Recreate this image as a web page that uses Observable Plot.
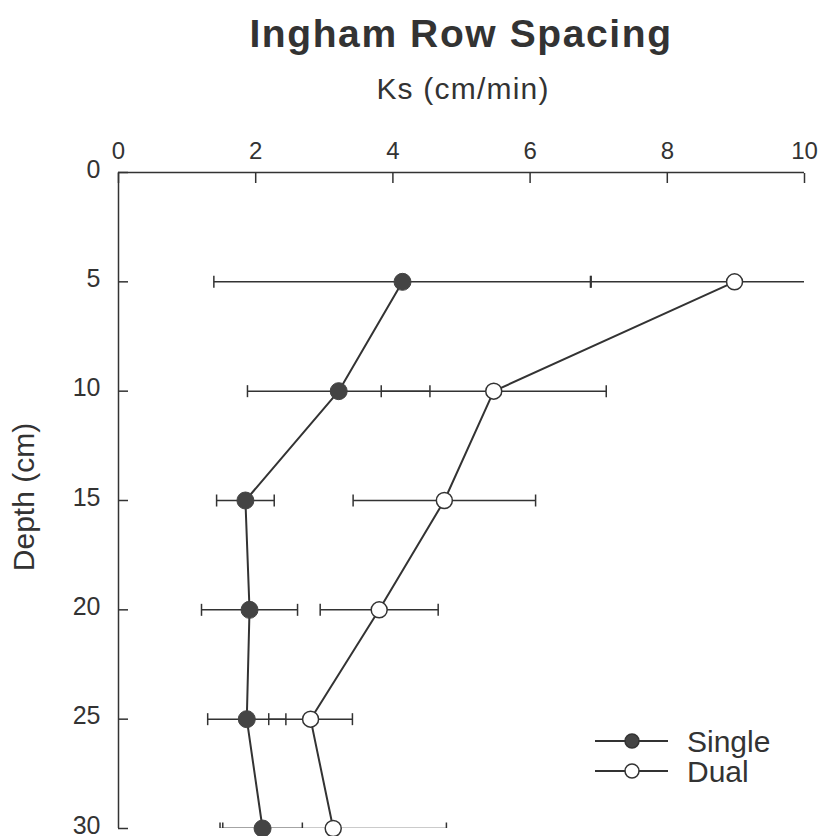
<!DOCTYPE html>
<html>
<head>
<meta charset="utf-8">
<script src="https://cdn.jsdelivr.net/npm/d3@7"></script>
<script src="https://cdn.jsdelivr.net/npm/@observablehq/plot@0.6"></script>
<style>
  html, body { margin: 0; padding: 0; background: #fff; }
  #wrap { position: relative; width: 822px; height: 836px; overflow: hidden; font-family: "Liberation Sans", Arial, sans-serif; color: #333; }
  #wrap svg.plot { position: absolute; left: 0; top: 0; }
  .title { position: absolute; left: 0; width: 922px; text-align: center; top: 12px; font-size: 39px; font-weight: bold; letter-spacing: 1.6px; white-space: nowrap; }
  .xlabel { position: absolute; left: 0; width: 926px; text-align: center; top: 72px; font-size: 30px; letter-spacing: 1.2px; white-space: nowrap; }
  .ylabel { position: absolute; left: 24px; top: 497px; font-size: 30px; white-space: nowrap; transform: translate(-50%, -50%) rotate(-90deg); }
  .legend { position: absolute; left: 590px; top: 722px; }
</style>
</head>
<body>
<div id="wrap">
  <div class="title">Ingham Row Spacing</div>
  <div class="xlabel">Ks (cm/min)</div>
  <div class="ylabel">Depth (cm)</div>
</div>
<script>
// ---- data ----
const depths    = [5, 10, 15, 20, 25, 30];
const singleKs  = [4.14, 3.21, 1.85, 1.91, 1.87, 2.10];
const singleErr = [2.75, 1.33, 0.42, 0.70, 0.57, 0.58];
const dualKs    = [8.98, 5.47, 4.75, 3.80, 2.80, 3.13];
const dualErr   = [2.10, 1.64, 1.33, 0.86, 0.61, 1.65];
const seriesNames = ["Single", "Dual"];
const xTicks = [0, 2, 4, 6, 8, 10];
const yTicks = [0, 5, 10, 15, 20, 25, 30];

const ink = "#333";
const rows = [];
depths.forEach((d, i) => {
  rows.push({series: "Single", depth: d, ks: singleKs[i], lo: singleKs[i] - singleErr[i], hi: singleKs[i] + singleErr[i]});
});
depths.forEach((d, i) => {
  rows.push({series: "Dual", depth: d, ks: dualKs[i], lo: dualKs[i] - dualErr[i], hi: dualKs[i] + dualErr[i]});
});
const caps = rows.flatMap(r => [{series: r.series, depth: r.depth, v: r.lo}, {series: r.series, depth: r.depth, v: r.hi}]);

// vertical-line symbol for error-bar caps
const capSymbol = {
  draw(ctx, size) {
    const h = Math.sqrt(size / Math.PI);
    ctx.moveTo(0, -h);
    ctx.lineTo(0, h);
  }
};

const chart = Plot.plot({
  width: 822,
  height: 836,
  marginTop: 172,
  marginLeft: 118,
  marginRight: 18,
  marginBottom: 8,
  style: {fontFamily: '"Liberation Sans", Arial, sans-serif', fontSize: "24px", color: ink, background: "transparent", overflow: "visible"},
  x: {domain: [0, 10]},
  y: {domain: [0, 30], reverse: true},
  marks: [
    Plot.ruleY([0], {stroke: ink, strokeWidth: 1.5}),
    Plot.ruleX([0], {stroke: ink, strokeWidth: 1.5}),
    Plot.axisX({anchor: "top", ticks: xTicks, tickSize: -10, tickPadding: 24, label: null, fontSize: 24, strokeWidth: 1.5}),
    Plot.axisY({anchor: "left", ticks: yTicks, tickSize: -10, tickFormat: () => "", label: null, strokeWidth: 1.5}),
    Plot.axisY({anchor: "left", ticks: yTicks, tickSize: 0, tickPadding: 18, label: null, fontSize: 25, dy: -3}),
    Plot.link(rows, {x1: "lo", x2: "hi", y1: "depth", y2: "depth", stroke: ink, strokeWidth: 1.5, clip: true}),
    Plot.dot(caps, {x: "v", y: "depth", symbol: capSymbol, r: 6, stroke: ink, strokeWidth: 1.5, clip: true}),
    Plot.line(rows, {x: "ks", y: "depth", z: "series", stroke: ink, strokeWidth: 2}),
    Plot.dot(rows.filter(r => r.series === "Dual"), {x: "ks", y: "depth", r: 8, fill: "#fff", stroke: ink, strokeWidth: 1.5}),
    Plot.dot(rows.filter(r => r.series === "Single"), {x: "ks", y: "depth", r: 8.5, fill: "#444", stroke: "#444", strokeWidth: 1})
  ]
});
chart.classList.add("plot");
document.getElementById("wrap").appendChild(chart);

// legend
const leg = d3.select("#wrap").append("svg").attr("class", "legend")
  .attr("width", 220).attr("height", 70)
  .style("font-family", '"Liberation Sans", Arial, sans-serif');
seriesNames.forEach((name, i) => {
  const y = 19 + i * 30;
  const g = leg.append("g").attr("transform", `translate(0,${y})`);
  g.append("line").attr("x1", 5).attr("x2", 78).attr("y1", 0).attr("y2", 0).attr("stroke", ink).attr("stroke-width", 2);
  g.append("circle").attr("cx", 42).attr("cy", 0).attr("r", 7)
    .attr("fill", name === "Single" ? "#444" : "#fff").attr("stroke", ink).attr("stroke-width", 1.5);
  g.append("text").attr("x", 97).attr("y", 0).attr("dy", "0.35em").attr("font-size", 30).attr("fill", ink).text(name);
});
</script>
</body>
</html>
